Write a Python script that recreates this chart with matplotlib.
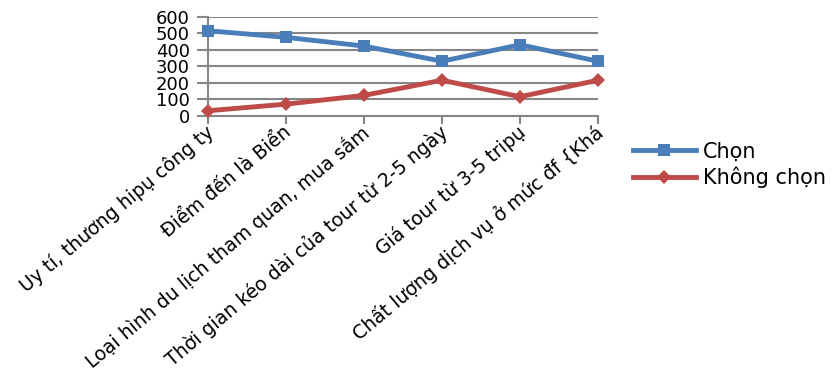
import numpy as np
import matplotlib
matplotlib.use("Agg")
import matplotlib.pyplot as plt
import matplotlib.transforms as mtransforms

# categories and series
categories = [
    "Uy tí, thương hipụ công ty",
    "Điểm đến là Biển",
    "Loại hình du lịch tham quan, mua sắm",
    "Thời gian kéo dài của tour từ 2-5 ngày",
    "Giá tour từ 3-5 tripụ",
    "Chất lượng dịch vụ ở mức đf {Khá",
]
chon = [515, 475, 422, 330, 430, 330]
khong_chon = [30, 70, 123, 215, 115, 215]
y_ticks = [0, 100, 200, 300, 400, 500, 600]

blue = "#4A7EBB"
red = "#BE4B48"
gray = "#868686"

plt.rcParams['font.family'] = ['DejaVu Sans']

fig = plt.figure(figsize=(8.36, 3.77), dpi=100)
ax = fig.add_axes([208 / 836, 1 - 115.7 / 377, 390 / 836, 99 / 377])

x = np.arange(len(categories))
ax.plot(x, chon, color=blue, lw=3.5, marker='s', markersize=8.5,
        markeredgewidth=0, label='Chọn', zorder=3, clip_on=False)
ax.plot(x, khong_chon, color=red, lw=3.5, marker='D', markersize=7,
        markeredgewidth=0, label='Không chọn', zorder=3, clip_on=False)

ax.set_xlim(0, len(categories) - 1)
ax.set_ylim(0, 600)
ax.set_yticks(y_ticks)
ax.set_yticklabels([str(v) for v in y_ticks], fontsize=13)
ax.yaxis.grid(True, color=gray, lw=1.5)
ax.set_axisbelow(True)

for s in ['top', 'right']:
    ax.spines[s].set_visible(False)
for s in ['left', 'bottom']:
    ax.spines[s].set_color(gray)
    ax.spines[s].set_linewidth(1.5)

ax.tick_params(axis='y', length=8, width=1.5, color=gray, pad=5)
ax.tick_params(axis='x', length=6, width=1.5, color=gray, pad=4)

ax.set_xticks(x)
ax.set_xticklabels(categories, fontsize=13.6, rotation=40, ha='right',
                   va='center', rotation_mode='anchor')
offset = mtransforms.ScaledTranslation(3 / 100, 0, fig.dpi_scale_trans)
for lab in ax.get_xticklabels():
    lab.set_transform(lab.get_transform() + offset)

fig.legend(loc='center left', bbox_to_anchor=(633 / 836, 1 - 165 / 377),
           frameon=False, fontsize=15, handlelength=3.0, handletextpad=0.35,
           labelspacing=0.25, borderpad=0, borderaxespad=0)

fig.savefig("out.png", dpi=100)
